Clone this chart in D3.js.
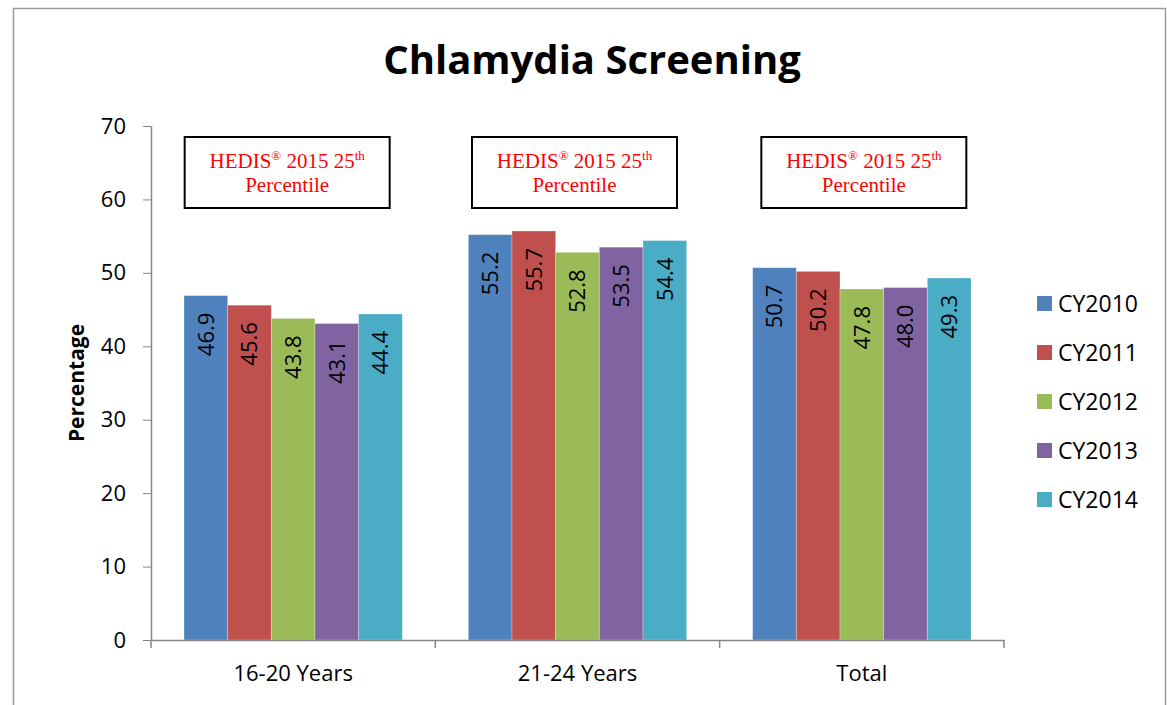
<!DOCTYPE html>
<html>
<head>
<meta charset="utf-8">
<script src="https://d3js.org/d3.v7.min.js"></script>
<style>
  body { margin: 0; background: #fff; }
  text { font-family: "Open Sans", sans-serif; fill: #000; }
  .axis path, .axis line { stroke: #868686; }
</style>
</head>
<body>
<div id="chart"></div>
<script>
// data
const categories = ["16-20 Years", "21-24 Years", "Total"];
const seriesNames = ["CY2010", "CY2011", "CY2012", "CY2013", "CY2014"];
const cy2010 = [46.9, 55.2, 50.7];
const cy2011 = [45.6, 55.7, 50.2];
const cy2012 = [43.8, 52.8, 47.8];
const cy2013 = [43.1, 53.5, 48.0];
const cy2014 = [44.4, 54.4, 49.3];
const yTicks = [0, 10, 20, 30, 40, 50, 60, 70];
const colors = ["#4F81BD", "#C0504D", "#9BBB59", "#8064A2", "#4BACC6"];

const values = [cy2010, cy2011, cy2012, cy2013, cy2014];
const rows = [];
categories.forEach((c, i) => {
  seriesNames.forEach((s, j) => rows.push({cat: c, series: s, value: values[j][i], idx: j}));
});

const W = 1167, H = 705;
const plot = {left: 151, right: 1004, top: 126, bottom: 640};

const svg = d3.select("#chart").append("svg")
  .attr("width", W).attr("height", H);

// outer frame
svg.append("rect")
  .attr("x", 13.5).attr("y", 8.5)
  .attr("width", 1152).attr("height", 730)
  .attr("fill", "none").attr("stroke", "#9a9a9a").attr("stroke-width", 1.5);

// title
svg.append("text")
  .attr("x", 592).attr("y", 74)
  .attr("text-anchor", "middle")
  .style("font-size", "40px").style("font-weight", "bold")
  .text("Chlamydia Screening");

const x = d3.scaleBand().domain(categories).range([plot.left, plot.right]);
const gap = 33;
const xs = d3.scaleBand().domain(seriesNames).range([gap, x.bandwidth() - gap]);
const y = d3.scaleLinear().domain([0, 70]).range([plot.bottom, plot.top]);

// y axis
const yAxis = svg.append("g").attr("class", "axis")
  .attr("transform", `translate(${plot.left},0)`)
  .call(d3.axisLeft(y).tickValues(yTicks).tickSize(8).tickSizeOuter(0).tickPadding(17));
yAxis.selectAll("text").style("font-size", "22px").style("font-family", "Open Sans");
yAxis.select(".domain").attr("stroke-width", 1.5);

// y label
svg.append("text")
  .attr("transform", `translate(84,${(plot.top + plot.bottom) / 2}) rotate(-90)`)
  .attr("text-anchor", "middle")
  .style("font-size", "21px").style("font-weight", "bold")
  .text("Percentage");

// bars
svg.append("g").selectAll("rect")
  .data(rows)
  .join("rect")
    .attr("x", d => x(d.cat) + xs(d.series))
    .attr("y", d => y(d.value))
    .attr("width", xs.bandwidth())
    .attr("height", d => y(0) - y(d.value))
    .attr("fill", d => colors[d.idx])
    .attr("stroke", "rgba(255,255,255,0.35)")
    .attr("stroke-width", 0.8);

// bar labels
svg.append("g").selectAll("text")
  .data(rows)
  .join("text")
    .attr("transform", d => `translate(${x(d.cat) + xs(d.series) + xs.bandwidth() / 2},${y(d.value) + 17}) rotate(-90)`)
    .attr("text-anchor", "end")
    .attr("dy", "0.36em")
    .style("font-size", "22px")
    .text(d => d.value.toFixed(1));

// x axis
const xAxis = svg.append("g").attr("class", "axis")
  .attr("transform", `translate(0,${plot.bottom})`)
  .call(d3.axisBottom(x).tickSize(0).tickSizeOuter(0).tickPadding(25));
xAxis.selectAll("text").style("font-size", "22px").style("font-family", "Open Sans");
xAxis.select(".domain").attr("stroke-width", 1.5);
const bounds = categories.map(c => x(c)).concat([x.range()[1]]);
xAxis.selectAll(".bound")
  .data(bounds)
  .join("line")
    .attr("class", "bound")
    .attr("x1", d => d).attr("x2", d => d)
    .attr("y1", 0).attr("y2", 8)
    .attr("stroke", "#868686").attr("stroke-width", 1.5);

// annotation boxes
const boxShift = [-6, -3, 2];
const boxW = 205, boxH = 71, boxTop = 137;
const boxes = svg.append("g").selectAll("g")
  .data(categories)
  .join("g")
    .attr("transform", (d, i) => `translate(${x(d) + x.bandwidth() / 2 + boxShift[i]},${boxTop})`);
boxes.append("rect")
  .attr("x", -boxW / 2).attr("y", 0)
  .attr("width", boxW).attr("height", boxH)
  .attr("fill", "#fff").attr("stroke", "#000").attr("stroke-width", 2);
const line1 = boxes.append("text")
  .attr("y", 31).attr("text-anchor", "middle")
  .style("font-family", "'Liberation Serif', 'Times New Roman', serif")
  .style("font-size", "21px").style("fill", "#ff0000");
line1.append("tspan").style("fill", "#ff0000").text("HEDIS");
line1.append("tspan").attr("dy", -8).style("font-size", "13px").style("fill", "#ff0000").text("®");
line1.append("tspan").attr("dy", 8).style("fill", "#ff0000").text(" 2015 25");
line1.append("tspan").attr("dy", -8).style("font-size", "13px").style("fill", "#ff0000").text("th");
boxes.append("text")
  .attr("y", 55).attr("text-anchor", "middle")
  .style("font-family", "'Liberation Serif', 'Times New Roman', serif")
  .style("font-size", "21px").style("fill", "#ff0000")
  .text("Percentile");

// legend
const legend = svg.append("g").selectAll("g")
  .data(seriesNames)
  .join("g")
    .attr("transform", (d, i) => `translate(1037,${303.5 + i * 49})`);
legend.append("rect")
  .attr("x", 0).attr("y", -7.5).attr("width", 15).attr("height", 15)
  .attr("fill", (d, i) => colors[i]);
legend.append("text")
  .attr("x", 21).attr("dy", "0.36em")
  .style("font-size", "23px")
  .text(d => d);
</script>
</body>
</html>
